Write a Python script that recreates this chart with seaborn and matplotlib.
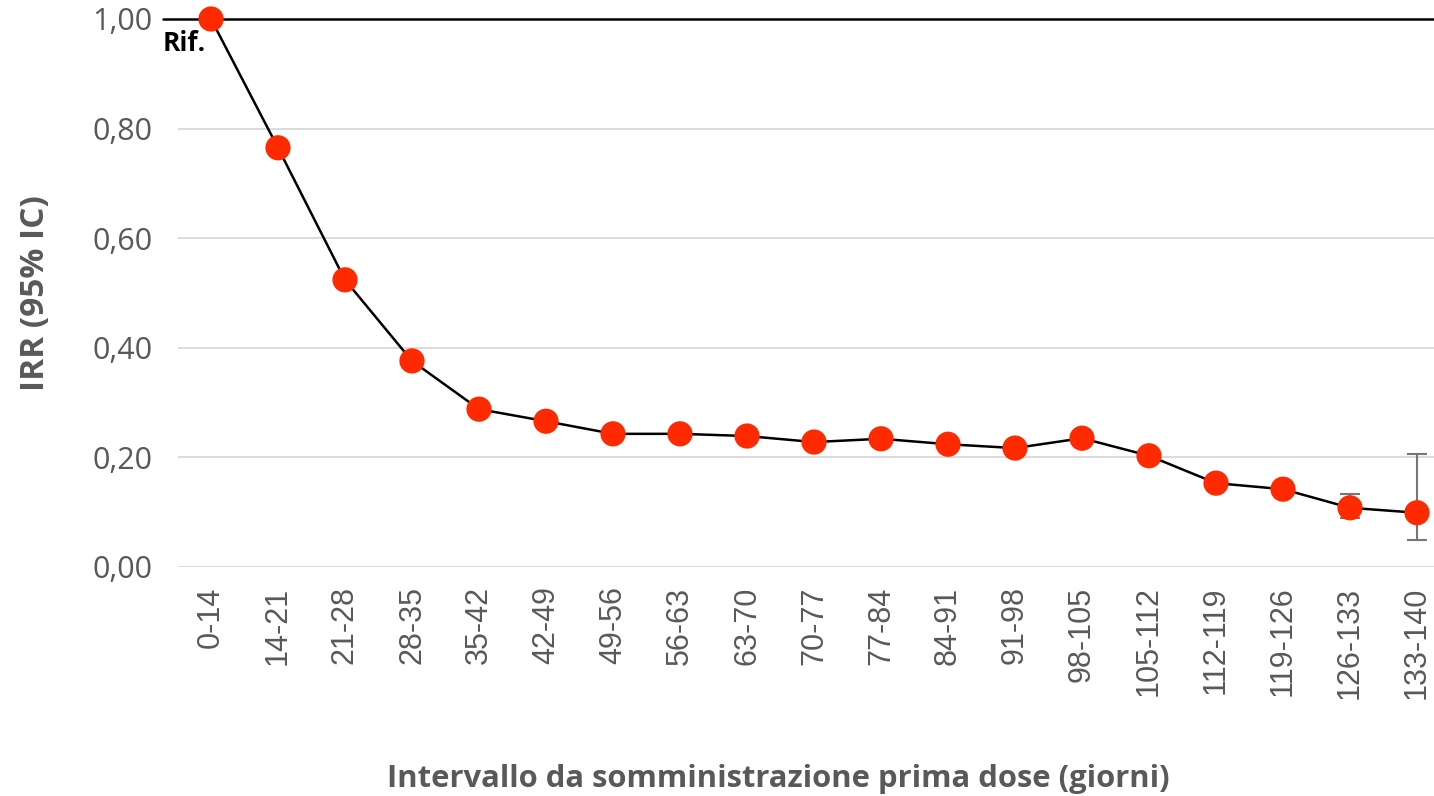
import matplotlib
matplotlib.use("Agg")
import matplotlib.pyplot as plt
import seaborn as sns
import pandas as pd
import numpy as np

categories = ["0-14", "14-21", "21-28", "28-35", "35-42", "42-49", "49-56", "56-63",
              "63-70", "70-77", "77-84", "84-91", "91-98", "98-105", "105-112",
              "112-119", "119-126", "126-133", "133-140"]
irr = [1.00, 0.765, 0.524, 0.376, 0.288, 0.266, 0.243, 0.243, 0.239, 0.228,
       0.234, 0.224, 0.217, 0.235, 0.203, 0.153, 0.142, 0.108, 0.099]
ci_low = [1.00, 0.755, 0.514, 0.368, 0.282, 0.260, 0.237, 0.237, 0.233, 0.222,
          0.228, 0.218, 0.211, 0.229, 0.197, 0.147, 0.134, 0.089, 0.049]
ci_high = [1.00, 0.775, 0.534, 0.384, 0.294, 0.272, 0.249, 0.249, 0.245, 0.234,
           0.240, 0.230, 0.223, 0.241, 0.209, 0.159, 0.150, 0.133, 0.206]
yticks = [0.0, 0.2, 0.4, 0.6, 0.8, 1.0]
ytick_labels = ["0,00", "0,20", "0,40", "0,60", "0,80", "1,00"]

sns.set_style("white")
plt.rcParams['font.family'] = ['Open Sans', 'DejaVu Sans']

df = pd.DataFrame({"pos": np.arange(len(categories)), "irr": irr,
                   "lo": ci_low, "hi": ci_high})

fig = plt.figure(figsize=(14.34, 7.96), dpi=100)
ax = fig.add_axes([177.5 / 1434, 1 - 567 / 796, 1273 / 1434, 548 / 796])

grey = "#595959"
for y in yticks[:-1]:
    ax.axhline(y, color="#d9d9d9", lw=1.3, zorder=0)

# error bars
ax.errorbar(df["pos"], df["irr"],
            yerr=[df["irr"] - df["lo"], df["hi"] - df["irr"]],
            fmt="none", ecolor="#767676", elinewidth=1.5, capsize=7, capthick=1.5,
            zorder=2)

sns.lineplot(data=df, x="pos", y="irr", ax=ax, color="black", lw=1.8, zorder=3)
sns.scatterplot(data=df, x="pos", y="irr", ax=ax, color="#FF2A00", s=330,
                edgecolor="none", zorder=4, clip_on=False)

ax.set_xlim(-0.5, len(categories) - 0.5)
ax.set_ylim(0, 1.0)
ax.plot([-0.72, len(categories)], [1.0, 1.0], color="black", lw=1.8,
        clip_on=False, zorder=2)

ax.set_xticks(df["pos"])
ax.set_xticklabels(categories, rotation=90, fontsize=22, color=grey,
                   family=["Liberation Sans", "DejaVu Sans"])
ax.set_yticks(yticks)
ax.set_yticklabels(ytick_labels, fontsize=22, color=grey)
ax.tick_params(axis="x", length=0, pad=14)
ax.tick_params(axis="y", length=0, pad=18)
for s in ax.spines.values():
    s.set_visible(False)

ax.set_xlabel("Intervallo da somministrazione prima dose (giorni)", fontsize=22.3,
              fontweight="bold", color=grey, labelpad=47)
ax.xaxis.label.set_x((778 - 177.5) / 1273)
ax.set_ylabel("IRR (95% IC)", fontsize=24, fontweight="bold", color=grey, labelpad=29)

ax.text(-0.72, 0.955, "Rif.", fontsize=19, fontweight="bold", color="black",
        ha="left", va="center")

fig.savefig("out.png", dpi=100)
